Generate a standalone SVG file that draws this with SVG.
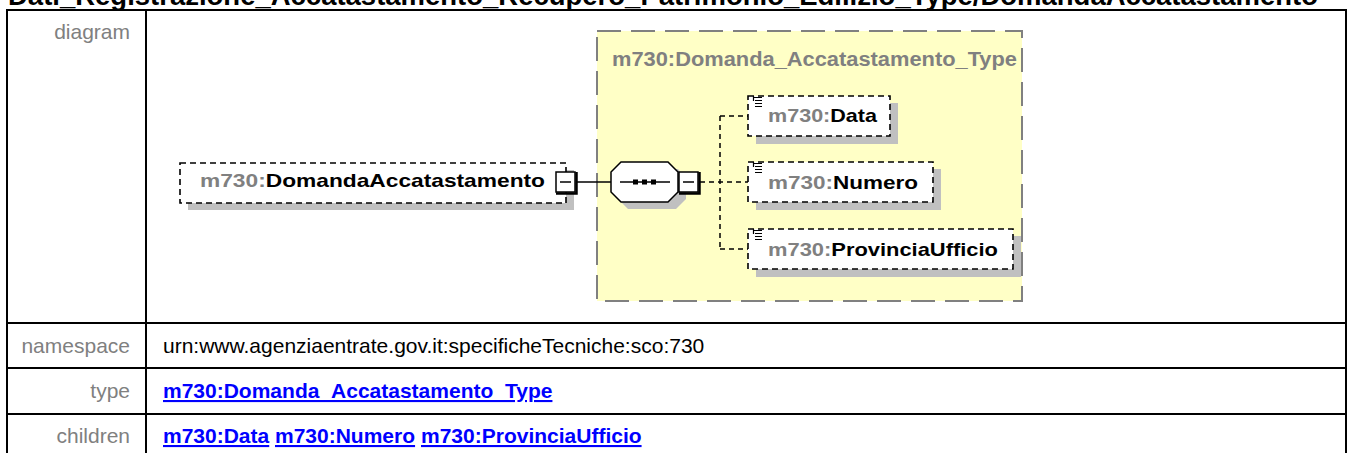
<svg xmlns="http://www.w3.org/2000/svg" width="1348" height="453" viewBox="0 0 1348 453">
<style>
text{font-family:"Liberation Sans",Arial,sans-serif}
.title{font-size:27px;font-weight:bold;fill:#000}
.lbl{font-size:21px;fill:#808080;text-anchor:end}
.val{font-size:21px;fill:#000}
.lnk{font-size:21px;font-weight:bold;fill:#0000FF;text-decoration:underline}
.grid{stroke:#000;stroke-width:2;fill:none}
.nm{font-size:19px;font-weight:bold}
.pre{fill:#808080}
.nmk{fill:#000}
.ebox{fill:#fff;stroke:#000;stroke-width:1.6;stroke-dasharray:6 4}
.shadow{fill:#c0c0c0}
.exp{fill:#fff;stroke:#000;stroke-width:1.5}
.expsh{stroke:#000;stroke-width:2.5;fill:none}
.conn{stroke:#000;stroke-width:1.5;fill:none}
.dconn{stroke:#000;stroke-width:1.5;fill:none;stroke-dasharray:5 4}
.icon{stroke:#000;stroke-width:1.2}
</style>
<rect width="1348" height="453" fill="#fff"/>
<text class="title" x="8" y="5" textLength="1310" lengthAdjust="spacingAndGlyphs">Dati_Registrazione_Accatastamento_Recupero_Patrimonio_Edilizio_Type/DomandaAccatastamento</text>
<g id="table">
<rect class="grid" x="7" y="10" width="1339" height="450"/>
<line class="grid" x1="146" y1="10" x2="146" y2="453"/>
<line class="grid" x1="7" y1="323" x2="1346" y2="323"/>
<line class="grid" x1="7" y1="368" x2="1346" y2="368"/>
<line class="grid" x1="7" y1="414" x2="1346" y2="414"/>
<text class="lbl" x="130" y="39">diagram</text>
<text class="lbl" x="130" y="353">namespace</text>
<text class="lbl" x="130" y="398">type</text>
<text class="lbl" x="130" y="443">children</text>
<text class="val" x="163" y="353">urn:www.agenziaentrate.gov.it:specificheTecniche:sco:730</text>
<text class="lnk" x="163" y="398">m730:Domanda_Accatastamento_Type</text>
<text class="lnk" x="163" y="443">m730:Data</text>
<text class="lnk" x="275" y="443">m730:Numero</text>
<text class="lnk" x="421" y="443">m730:ProvinciaUfficio</text>
</g>
<g id="type-box">
<rect x="597" y="31" width="425" height="270" fill="#FFFFC6" stroke="#808080" stroke-width="2" stroke-dasharray="24 10"/>
<text class="pre" x="612" y="66" font-size="20" font-weight="bold" textLength="405" lengthAdjust="spacingAndGlyphs">m730:Domanda_Accatastamento_Type</text>
</g>
<g id="connectors">
<line class="conn" x1="576" y1="182" x2="611" y2="182"/>
<line class="dconn" x1="700" y1="182" x2="748" y2="182"/>
<line class="dconn" x1="720" y1="116" x2="720" y2="249"/>
<line class="dconn" x1="720" y1="116" x2="748" y2="116"/>
<line class="dconn" x1="720" y1="249" x2="748" y2="249"/>
</g>
<g id="root">
<rect class="shadow" x="188" y="170" width="386" height="40"/>
<rect class="ebox" x="180" y="163" width="386" height="40"/>
<text class="nm" x="200" y="187" textLength="345" lengthAdjust="spacingAndGlyphs"><tspan class="pre">m730:</tspan><tspan class="nmk">DomandaAccatastamento</tspan></text>
<rect class="exp" x="556" y="172" width="19" height="20"/>
<polyline class="expsh" points="576.5,172 576.5,193.5 556,193.5"/>
<line class="conn" x1="560" y1="182" x2="571" y2="182"/>
</g>
<g id="sequence">
<polygon class="shadow" points="628,169 678,169 686,179 686,199 676,209 628,209 618,199 618,179"/>
<polygon points="621,162 668,162 678,172 678,192 668,202 621,202 611,192 611,172" fill="#fff" stroke="#000" stroke-width="1.5"/>
<line class="conn" x1="620" y1="182" x2="670" y2="182"/>
<rect x="633" y="179.5" width="5" height="5" fill="#000"/>
<rect x="642" y="179.5" width="5" height="5" fill="#000"/>
<rect x="651" y="179.5" width="5" height="5" fill="#000"/>
<rect class="exp" x="679" y="172" width="19" height="20"/>
<polyline class="expsh" points="699.5,172 699.5,193.5 679,193.5"/>
<line class="conn" x1="683" y1="182" x2="694" y2="182"/>
</g>
<g id="data">
<rect class="shadow" x="756" y="103" width="142" height="41"/>
<rect class="ebox" x="748" y="96" width="142" height="40"/>
<path class="icon" d="M753,97.5h9M755,100.5h7M755,103.5h7M755,106.5h7M753.5,96v5"/>
<text class="nm" x="768" y="122" textLength="109" lengthAdjust="spacingAndGlyphs"><tspan class="pre">m730:</tspan><tspan class="nmk">Data</tspan></text>
</g>
<g id="numero">
<rect class="shadow" x="756" y="169" width="185" height="41"/>
<rect class="ebox" x="748" y="162" width="185" height="40"/>
<path class="icon" d="M753,163.5h9M755,166.5h7M755,169.5h7M755,172.5h7M753.5,162v5"/>
<text class="nm" x="768" y="189" textLength="150" lengthAdjust="spacingAndGlyphs"><tspan class="pre">m730:</tspan><tspan class="nmk">Numero</tspan></text>
</g>
<g id="provincia">
<rect class="shadow" x="756" y="236" width="265" height="41"/>
<rect class="ebox" x="748" y="229" width="265" height="40"/>
<path class="icon" d="M753,230.5h9M755,233.5h7M755,236.5h7M755,239.5h7M753.5,229v5"/>
<text class="nm" x="768" y="256" textLength="230" lengthAdjust="spacingAndGlyphs"><tspan class="pre">m730:</tspan><tspan class="nmk">ProvinciaUfficio</tspan></text>
</g>
</svg>
